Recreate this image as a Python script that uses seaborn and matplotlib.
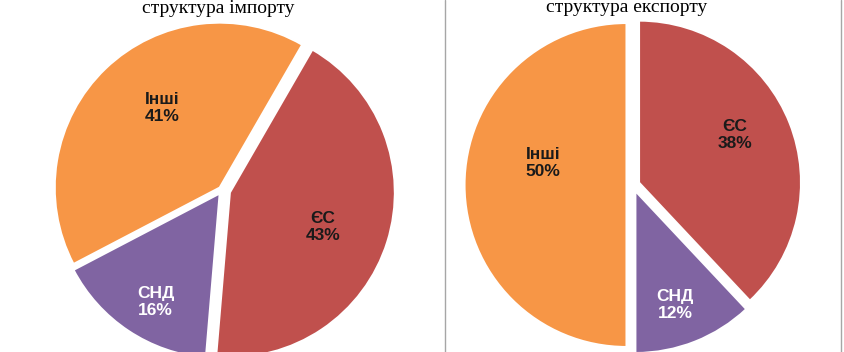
import matplotlib
matplotlib.use("Agg")
import matplotlib.pyplot as plt
import seaborn as sns
import numpy as np
from matplotlib import font_manager
from matplotlib.lines import Line2D

# ---- data ----
import_labels = ["ЄС", "СНД", "Інші"]
import_values = [43, 16, 41]
export_labels = ["ЄС", "СНД", "Інші"]
export_values = [38, 12, 50]
titles = ["структура імпорту", "структура експорту"]

sns.set_theme(style="white")
names = {f.name for f in font_manager.fontManager.ttflist}
label_font = "Liberation Sans Narrow" if "Liberation Sans Narrow" in names else "Liberation Sans"
plt.rcParams["font.family"] = ["DejaVu Sans"]

colors = sns.color_palette(["#C0504D", "#8064A2", "#F79646"])
text_colors = ["#1a1a1a", "white", "#1a1a1a"]

W, H = 844, 352
fig = plt.figure(figsize=(W / 100, H / 100), dpi=100)
fig.patch.set_facecolor("white")


def draw_pie(box, cx, cy, r, values, labels, startangle, explode, label_pos, title, tx, ty):
    x0, x1 = box
    ax = fig.add_axes([x0 / W, 0, (x1 - x0) / W, 1])
    wedges, _ = ax.pie(values, colors=colors, startangle=startangle, counterclock=False,
                       explode=explode, radius=1,
                       wedgeprops=dict(edgecolor="white", linewidth=1.5))
    ax.set_aspect("auto")
    ax.set_xlim((x0 - cx) / r, (x1 - cx) / r)
    cyb = H - cy
    ax.set_ylim((0 - cyb) / r, (H - cyb) / r)
    ax.axis("off")
    total = sum(values)
    for w, lab, v, (d, dang), tc in zip(wedges, labels, values, label_pos, text_colors):
        ang = np.deg2rad((w.theta1 + w.theta2) / 2 + dang)
        px = d * np.cos(ang)
        py = d * np.sin(ang)
        ax.text(px, py, f"{lab}\n{round(100 * v / total)}%", ha="center", va="center",
                fontsize=12.5, fontweight="bold", family=[label_font, "DejaVu Sans"],
                color=tc, linespacing=1.2)
    fig.text(tx / W, 1 - ty / H, title, ha="center", va="baseline",
             family=["Liberation Serif", "DejaVu Serif"], fontsize=14, color="black")


draw_pie((0, 444), 222, 190, 165, import_values, import_labels, 60,
         [0.05, 0.025, 0.02], [(0.65, -2.7), (0.79, 2.9), (0.616, -7.6)],
         titles[0], 218, 13)
draw_pie((445, 844), 633, 185, 162, export_values, export_labels, 90,
         [0.04, 0.04, 0.04], [(0.70, 4.5), (0.785, -2.3), (0.572, -13.7)],
         titles[1], 627, 12)

for xp in (444.5, 840.5):
    fig.add_artist(Line2D([xp / W, xp / W], [0, 1], color="#a6a6a6", lw=1))

fig.savefig("out.png", dpi=100, facecolor="white")
